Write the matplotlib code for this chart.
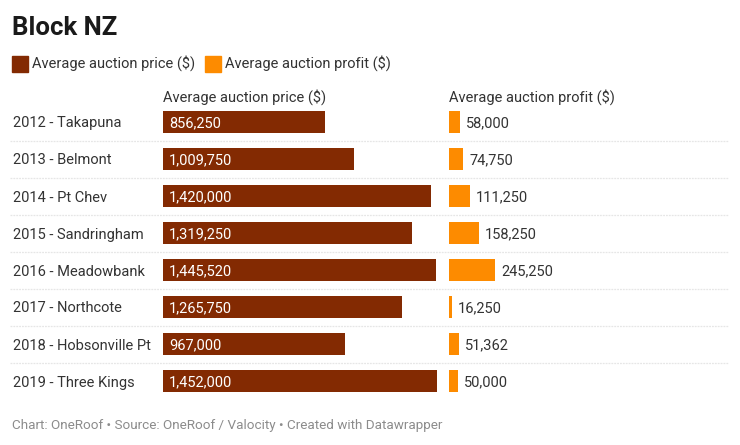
import matplotlib
matplotlib.use("Agg")
import matplotlib.pyplot as plt
import matplotlib.transforms as mtransforms

plt.rcParams['font.family'] = ['Roboto', 'DejaVu Sans']

# data
labels = ["2012 - Takapuna", "2013 - Belmont", "2014 - Pt Chev", "2015 - Sandringham",
          "2016 - Meadowbank", "2017 - Northcote", "2018 - Hobsonville Pt", "2019 - Three Kings"]
price = [856250, 1009750, 1420000, 1319250, 1445520, 1265750, 967000, 1452000]
profit = [58000, 74750, 111250, 158250, 245250, 16250, 51362, 50000]
col_titles = ["Average auction price ($)", "Average auction profit ($)"]

DARK = "#832a02"
ORANGE = "#fd8b00"
TXT = "#333333"

W, H = 740, 445
fig = plt.figure(figsize=(W / 100, H / 100), dpi=100)
fig.patch.set_facecolor("white")

def px(x, y):
    # pixel (top-left origin) -> figure fraction
    return x / W, 1 - y / H

# row geometry (pixels)
row0, step = 122, 37
n = len(labels)
top = row0 - step / 2
bot = row0 + step * (n - 1) + step / 2
scale = 274 / 1452000  # px per dollar
colw = 280

def make_ax(left):
    ax = fig.add_axes([left / W, 1 - bot / H, colw / W, (bot - top) / H])
    ax.set_xlim(0, colw / scale)
    ax.set_ylim(n - 0.5, -0.5)
    ax.axis("off")
    return ax

# background axes for separators across full width
bg = fig.add_axes([0, 1 - bot / H, 1, (bot - top) / H])
bg.set_xlim(0, W)
bg.set_ylim(n - 0.5, -0.5)
bg.axis("off")
for i in range(n - 1):
    bg.hlines(i + 0.5, 10, 728, color="#e6e6e6", lw=0.9, linestyle=(0, (1.5, 0.8)))

ax1 = make_ax(163)
ax2 = make_ax(449)
ys = list(range(n))
ax1.barh(ys, price, height=0.62, color=DARK)
ax2.barh(ys, profit, height=0.62, color=ORANGE)

fs = 10.5
for i in range(n):
    ax1.annotate(f"{price[i]:,}", (0, i), xytext=(4.3, 0), textcoords="offset points",
                 va="center_baseline", ha="left", color="white", fontsize=fs)
    ax2.annotate(f"{profit[i]:,}", (profit[i], i), xytext=(4.3, 0), textcoords="offset points",
                 va="center_baseline", ha="left", color=TXT, fontsize=fs)

# row labels
tr = mtransforms.blended_transform_factory(fig.transFigure, ax1.transData)
for i, lab in enumerate(labels):
    fig.text(13 / W, i, lab, transform=tr, va="center_baseline", ha="left", color=TXT, fontsize=fs)

# title
fig.text(*px(12, 35), "Block NZ", fontsize=18.5, fontweight="bold", color="#1a1a1a", va="baseline")

# legend
for x0, c, t in [(12, DARK, col_titles[0]), (205, ORANGE, col_titles[1])]:
    fig.patches.append(plt.Rectangle(px(x0, 72), 16 / W, 16 / H, transform=fig.transFigure,
                                     color=c, figure=fig))
    fig.text(*px(x0 + 20, 68), t, fontsize=fs, color=TXT, va="baseline")

# column headers
fig.text(*px(163, 102), col_titles[0], fontsize=fs, color=TXT, va="baseline")
fig.text(*px(449, 102), col_titles[1], fontsize=fs, color=TXT, va="baseline")

# footer
fig.text(*px(12, 429), "Chart: OneRoof \u2022 Source: OneRoof / Valocity \u2022 Created with Datawrapper",
         fontsize=9.7, color="#8c8c8c", va="baseline")

fig.savefig("out.png", dpi=100, facecolor="white")
